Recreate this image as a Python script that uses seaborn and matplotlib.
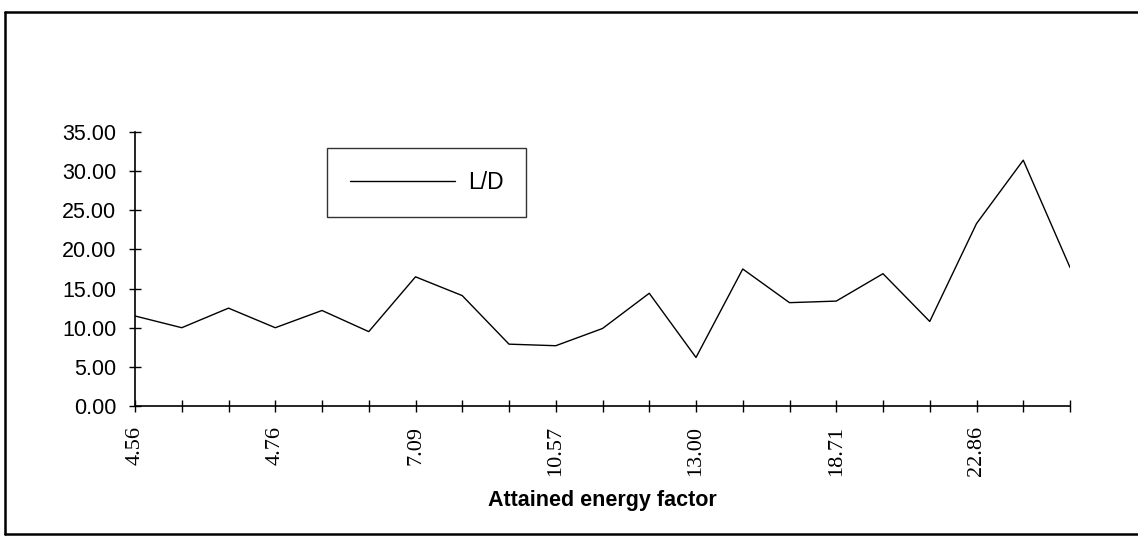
import matplotlib
matplotlib.use("Agg")
import matplotlib.pyplot as plt
from matplotlib.lines import Line2D
import seaborn as sns
import pandas as pd

# ---- data ----
x_labels = ["4.56", "", "", "4.76", "", "", "7.09", "", "", "10.57", "", "",
            "13.00", "", "", "18.71", "", "", "22.86", "", ""]
ld_values = [11.5, 10.0, 12.5, 10.0, 12.2, 9.5, 16.5, 14.1, 7.9, 7.7, 9.9,
             14.4, 6.2, 17.5, 13.2, 13.4, 16.9, 10.8, 23.3, 31.4, 17.7]
y_ticks = [0, 5, 10, 15, 20, 25, 30, 35]
series_name = "L/D"
x_title = "Attained energy factor"

df = pd.DataFrame({"pos": list(range(len(ld_values))), "value": ld_values})

sns.set_theme(style="white")
plt.rcParams["font.family"] = ["Liberation Sans", "DejaVu Sans"]
plt.rcParams["text.color"] = "black"

W, H = 1138, 538
fig = plt.figure(figsize=(W / 100, H / 100), dpi=100)
fig.patch.set_facecolor("white")
ax = fig.add_axes([135 / W, 1 - 406 / H, (1070 - 135) / W, (406 - 132) / H])

sns.lineplot(data=df, x="pos", y="value", ax=ax, color="black", linewidth=1.0,
             label=series_name)

ax.set_xlim(0, len(ld_values) - 1)
ax.set_ylim(0, 35)
ax.set_yticks(y_ticks)
ax.set_yticklabels([f"{v:.2f}" for v in y_ticks], fontsize=15.5,
                   family=["Liberation Sans", "DejaVu Sans"])
ax.set_xticks(df["pos"])
ax.set_xticklabels(x_labels, rotation=90, fontsize=16,
                   family=["Liberation Serif", "DejaVu Serif"], va="top")

for side in ["top", "right"]:
    ax.spines[side].set_visible(False)
for side in ["left", "bottom"]:
    ax.spines[side].set_color("black")
    ax.spines[side].set_linewidth(1.2)

ax.tick_params(axis="both", which="major", bottom=True, left=True,
               direction="inout", length=9, width=1.0,
               color="black", labelcolor="black")
ax.tick_params(axis="y", pad=9)
ax.tick_params(axis="x", pad=10)
ax.grid(False)

ax.set_xlabel(x_title, fontsize=15.5, fontweight="bold", labelpad=10, color="black")
ax.set_ylabel("")

leg = ax.legend(loc="upper left", bbox_to_anchor=(327 / W, 1 - 148 / H),
                bbox_transform=fig.transFigure, frameon=True, fancybox=False,
                fontsize=16.5, handlelength=4.6, handletextpad=0.55,
                borderpad=1.0, borderaxespad=0)
leg.get_frame().set_edgecolor("black")
leg.get_frame().set_linewidth(1.0)
leg.get_frame().set_facecolor("white")
for t in leg.get_texts():
    t.set_color("black")

# outer chart frame
x0, y0 = 5 / W, 1 - 534 / H
y1 = 1 - 12 / H
for xs, ys in [([x0, x0], [y0, y1]), ([x0, 1.01], [y1, y1]), ([x0, 1.01], [y0, y0])]:
    fig.add_artist(Line2D(xs, ys, transform=fig.transFigure, color="black",
                          linewidth=1.8, clip_on=False))

fig.savefig("out.png", dpi=100)
